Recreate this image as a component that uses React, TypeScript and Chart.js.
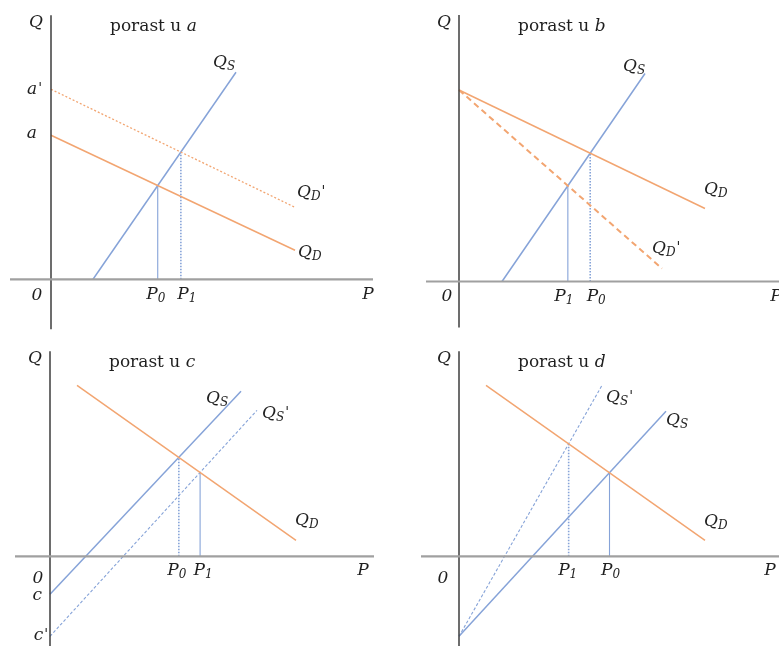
import { useEffect, useRef } from "react";
import { Chart, registerables } from "chart.js";

Chart.register(...registerables);

type Pt = { x: number; y: number };

// Price P runs along the horizontal axis, quantity Q up the vertical axis.

// Panel a: demand intercept rises from a to a'
const supplyA: Pt[] = [{ x: 4.2, y: 0 }, { x: 18.5, y: 20.7 }];
const demandA: Pt[] = [{ x: 0, y: 14.4 }, { x: 24.4, y: 2.9 }];
const demandA2: Pt[] = [{ x: 0, y: 19.0 }, { x: 24.4, y: 7.2 }];
const priceAxisA = [-4.1, 32.2];
const qtyAxisA = [-5.0, 26.4];

// Panel b: demand turns steeper around the same intercept
const supplyB: Pt[] = [{ x: 4.3, y: 0 }, { x: 18.6, y: 20.8 }];
const demandB: Pt[] = [{ x: 0, y: 19.15 }, { x: 24.6, y: 7.3 }];
const demandB2: Pt[] = [{ x: 0, y: 19.15 }, { x: 20.3, y: 1.3 }];
const priceAxisB = [-3.3, 33.0];
const qtyAxisB = [-4.6, 26.65];

// Panel c: supply intercept falls from c to c'
const supplyC: Pt[] = [{ x: 0, y: -3.8 }, { x: 19.1, y: 16.5 }];
const supplyC2: Pt[] = [{ x: 0, y: -8.0 }, { x: 20.7, y: 14.6 }];
const demandC: Pt[] = [{ x: 2.7, y: 17.1 }, { x: 24.6, y: 1.6 }];
const priceAxisC = [-3.5, 32.4];
const qtyAxisC = [-9.5, 20.5];

// Panel d: supply turns steeper around the same intercept
const supplyD: Pt[] = [{ x: 0, y: -8.0 }, { x: 20.7, y: 14.5 }];
const supplyD2: Pt[] = [{ x: 0, y: -8.0 }, { x: 14.3, y: 17.1 }];
const demandD: Pt[] = [{ x: 2.7, y: 17.1 }, { x: 24.6, y: 1.6 }];
const priceAxisD = [-3.8, 33.0];
const qtyAxisD = [-9.5, 20.5];

const panelLetters = ["a", "b", "c", "d"];

const UNIT = 10; // pixels per unit on both axes
const SERIF = '"DejaVu Serif", "Liberation Serif", serif';
const TEXT = "#1f1f1f";
const BLUE = "#86a3d8";
const ORANGE = "#f2a571";
const AXIS_V = "#3c3c3c";
const AXIS_H = "#a0a0a0";

// point where two straight lines (each given by two points) cross
function crossing(a: Pt[], b: Pt[]): Pt {
  const ma = (a[1].y - a[0].y) / (a[1].x - a[0].x);
  const mb = (b[1].y - b[0].y) / (b[1].x - b[0].x);
  const ca = a[0].y - ma * a[0].x;
  const cb = b[0].y - mb * b[0].x;
  const x = (cb - ca) / (ma - mb);
  return { x, y: ma * x + ca };
}

type Line = { data: Pt[]; color: string; width: number; dash?: number[] };
type Label = {
  at: Pt;
  dx: number;
  dy: number;
  main: string;
  sub?: string;
  prime?: boolean;
  align?: "left" | "center" | "right";
};
type Box = { left: number; top: number; width: number; height: number; ox: number; oy: number };
type PanelSpec = { box: Box; letter: string; qTop: number; lines: Line[]; labels: Label[] };

function axes(price: number[], qty: number[]): Line[] {
  return [
    { data: [{ x: price[0], y: 0 }, { x: price[1], y: 0 }], color: AXIS_H, width: 2.2 },
    { data: [{ x: 0, y: qty[0] }, { x: 0, y: qty[1] }], color: AXIS_V, width: 1.5 },
  ];
}

function drop(p: Pt, dotted: boolean): Line {
  return dotted
    ? { data: [{ x: p.x, y: 0 }, p], color: BLUE, width: 1.6, dash: [1.5, 1.5] }
    : { data: [{ x: p.x, y: 0 }, p], color: BLUE, width: 1.1 };
}

const origin: Pt = { x: 0, y: 0 };

function buildPanels(): PanelSpec[] {
  const a0 = crossing(supplyA, demandA);
  const a1 = crossing(supplyA, demandA2);
  const b0 = crossing(supplyB, demandB);
  const b1 = crossing(supplyB, demandB2);
  const c0 = crossing(supplyC, demandC);
  const c1 = crossing(supplyC2, demandC);
  const d0 = crossing(supplyD, demandD);
  const d1 = crossing(supplyD2, demandD);

  return [
    {
      box: { left: 0, top: 0, width: 389, height: 330, ox: 51, oy: 279.3 },
      letter: panelLetters[0],
      qTop: qtyAxisA[1],
      lines: [
        ...axes(priceAxisA, qtyAxisA),
        { data: demandA2, color: ORANGE, width: 1.3, dash: [2, 2] },
        { data: demandA, color: ORANGE, width: 1.5 },
        drop(a0, false),
        drop(a1, true),
        { data: supplyA, color: BLUE, width: 1.5 },
      ],
      labels: [
        { at: supplyA[1], dx: -23, dy: -5, main: "Q", sub: "S" },
        { at: demandA2[1], dx: 2, dy: -10, main: "Q", sub: "D", prime: true },
        { at: demandA[1], dx: 3, dy: 7, main: "Q", sub: "D" },
        { at: demandA2[0], dx: -9, dy: 5, main: "a", prime: true, align: "right" },
        { at: demandA[0], dx: -14, dy: 3, main: "a", align: "right" },
        { at: origin, dx: -14, dy: 21, main: "0", align: "center" },
        { at: origin, dx: 317, dy: 20, main: "P", align: "center" },
        { at: { x: a0.x, y: 0 }, dx: -2, dy: 20, main: "P", sub: "0", align: "center" },
        { at: { x: a1.x, y: 0 }, dx: 6, dy: 20, main: "P", sub: "1", align: "center" },
      ],
    },
    {
      box: { left: 389, top: 0, width: 390, height: 330, ox: 459, oy: 281.5 },
      letter: panelLetters[1],
      qTop: qtyAxisB[1],
      lines: [
        ...axes(priceAxisB, qtyAxisB),
        { data: demandB2, color: ORANGE, width: 2, dash: [6, 4] },
        { data: demandB, color: ORANGE, width: 1.5 },
        drop(b0, true),
        drop(b1, false),
        { data: supplyB, color: BLUE, width: 1.5 },
      ],
      labels: [
        { at: supplyB[1], dx: -22, dy: -3, main: "Q", sub: "S" },
        { at: demandB[1], dx: -1, dy: -15, main: "Q", sub: "D" },
        { at: demandB2[1], dx: -10, dy: -16, main: "Q", sub: "D", prime: true },
        { at: origin, dx: -12, dy: 19, main: "0", align: "center" },
        { at: origin, dx: 317, dy: 19, main: "P", align: "center" },
        { at: { x: b1.x, y: 0 }, dx: -4, dy: 19, main: "P", sub: "1", align: "center" },
        { at: { x: b0.x, y: 0 }, dx: 6, dy: 19, main: "P", sub: "0", align: "center" },
      ],
    },
    {
      box: { left: 0, top: 330, width: 389, height: 316, ox: 50, oy: 556.3 },
      letter: panelLetters[2],
      qTop: qtyAxisC[1],
      lines: [
        ...axes(priceAxisC, qtyAxisC),
        { data: demandC, color: ORANGE, width: 1.5 },
        { data: supplyC2, color: BLUE, width: 1.1, dash: [3, 2] },
        drop(c0, true),
        drop(c1, false),
        { data: supplyC, color: BLUE, width: 1.5 },
      ],
      labels: [
        { at: supplyC[1], dx: -35, dy: 12, main: "Q", sub: "S" },
        { at: supplyC2[1], dx: 5, dy: 8, main: "Q", sub: "S", prime: true },
        { at: demandC[1], dx: -1, dy: -15, main: "Q", sub: "D" },
        { at: origin, dx: -12, dy: 27, main: "0", align: "center" },
        { at: supplyC[0], dx: -8, dy: 6, main: "c", align: "right" },
        { at: supplyC2[0], dx: -2, dy: 4, main: "c", prime: true, align: "right" },
        { at: origin, dx: 313, dy: 19, main: "P", align: "center" },
        { at: { x: c0.x, y: 0 }, dx: -2, dy: 19, main: "P", sub: "0", align: "center" },
        { at: { x: c1.x, y: 0 }, dx: 3, dy: 19, main: "P", sub: "1", align: "center" },
      ],
    },
    {
      box: { left: 389, top: 330, width: 390, height: 316, ox: 459, oy: 556.3 },
      letter: panelLetters[3],
      qTop: qtyAxisD[1],
      lines: [
        ...axes(priceAxisD, qtyAxisD),
        { data: demandD, color: ORANGE, width: 1.5 },
        { data: supplyD2, color: BLUE, width: 1.1, dash: [3, 2] },
        drop(d0, false),
        drop(d1, true),
        { data: supplyD, color: BLUE, width: 1.5 },
      ],
      labels: [
        { at: supplyD2[1], dx: 4, dy: 17, main: "Q", sub: "S", prime: true },
        { at: supplyD[1], dx: 0, dy: 14, main: "Q", sub: "S" },
        { at: demandD[1], dx: -1, dy: -14, main: "Q", sub: "D" },
        { at: origin, dx: -16, dy: 27, main: "0", align: "center" },
        { at: origin, dx: 311, dy: 19, main: "P", align: "center" },
        { at: { x: d1.x, y: 0 }, dx: -1, dy: 19, main: "P", sub: "1", align: "center" },
        { at: { x: d0.x, y: 0 }, dx: 1, dy: 19, main: "P", sub: "0", align: "center" },
      ],
    },
  ];
}

function drawLabel(ctx: CanvasRenderingContext2D, x: number, y: number, l: Label) {
  const mainFont = `italic 17px ${SERIF}`;
  const subFont = `italic 12px ${SERIF}`;
  const primeFont = `italic 14px ${SERIF}`;
  ctx.font = mainFont;
  const w1 = ctx.measureText(l.main).width;
  ctx.font = subFont;
  const w2 = l.sub ? ctx.measureText(l.sub).width : 0;
  ctx.font = primeFont;
  const w3 = l.prime ? ctx.measureText("'").width + 1 : 0;
  const total = w1 + w2 + w3;
  let sx = x;
  if (l.align === "center") sx -= total / 2;
  else if (l.align === "right") sx -= total;
  ctx.textAlign = "left";
  ctx.textBaseline = "alphabetic";
  ctx.fillStyle = TEXT;
  ctx.font = mainFont;
  ctx.fillText(l.main, sx, y);
  if (l.sub) {
    ctx.font = subFont;
    ctx.fillText(l.sub, sx + w1, y + 3);
  }
  if (l.prime) {
    ctx.font = primeFont;
    ctx.fillText("'", sx + w1 + w2 + 1, y - 1);
  }
}

function Panel({ spec }: { spec: PanelSpec }) {
  const ref = useRef<HTMLCanvasElement>(null);
  const { box } = spec;

  useEffect(() => {
    const xmin = (box.left - box.ox) / UNIT;
    const xmax = (box.left + box.width - box.ox) / UNIT;
    const ymax = (box.oy - box.top) / UNIT;
    const ymin = (box.oy - box.top - box.height) / UNIT;

    const chart = new Chart(ref.current!, {
      type: "scatter",
      data: {
        datasets: spec.lines.map((l) => ({
          data: l.data,
          showLine: true,
          borderColor: l.color,
          borderWidth: l.width,
          borderDash: l.dash ?? [],
          pointRadius: 0,
          pointHoverRadius: 0,
          fill: false,
          tension: 0,
        })),
      },
      options: {
        responsive: false,
        animation: false,
        events: [],
        layout: { padding: 0 },
        plugins: { legend: { display: false }, tooltip: { enabled: false } },
        scales: {
          x: { type: "linear", min: xmin, max: xmax, display: false },
          y: { type: "linear", min: ymin, max: ymax, display: false },
        },
      },
      plugins: [
        {
          id: "diagramText",
          afterDatasetsDraw(c: Chart) {
            const ctx = c.ctx;
            const xs = c.scales.x;
            const ys = c.scales.y;
            ctx.save();
            for (const l of spec.labels) {
              const px = xs.getPixelForValue(l.at.x) + l.dx;
              const py = ys.getPixelForValue(l.at.y) + l.dy;
              drawLabel(ctx, px, py, l);
            }
            // axis name and panel title above the quantity axis
            const ax = xs.getPixelForValue(0);
            const top = ys.getPixelForValue(spec.qTop);
            drawLabel(ctx, ax - 15, top + 12, { at: origin, dx: 0, dy: 0, main: "Q", align: "center" });
            ctx.fillStyle = TEXT;
            ctx.textAlign = "left";
            ctx.textBaseline = "alphabetic";
            ctx.font = `17px ${SERIF}`;
            const head = "porast u ";
            ctx.fillText(head, ax + 59, top + 16);
            const hw = ctx.measureText(head).width;
            ctx.font = `italic 17px ${SERIF}`;
            ctx.fillText(spec.letter, ax + 59 + hw, top + 16);
            ctx.restore();
          },
        },
      ],
    });
    return () => chart.destroy();
  }, [spec]);

  return (
    <canvas
      ref={ref}
      width={box.width}
      height={box.height}
      style={{ position: "absolute", left: box.left, top: box.top, width: box.width, height: box.height }}
    />
  );
}

const panels = buildPanels();

export default function App() {
  return (
    <div style={{ position: "fixed", left: 0, top: 0, width: 779, height: 646, background: "#ffffff", overflow: "hidden" }}>
      {panels.map((p) => (
        <Panel key={p.letter} spec={p} />
      ))}
    </div>
  );
}
